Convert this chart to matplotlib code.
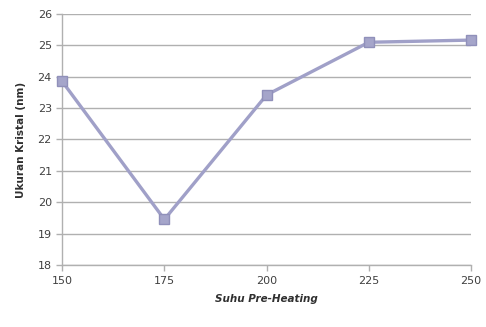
import matplotlib
matplotlib.use("Agg")
import matplotlib.pyplot as plt

suhu = [150, 175, 200, 225, 250]
ukuran = [23.85, 19.45, 23.42, 25.1, 25.17]
y_ticks = [18, 19, 20, 21, 22, 23, 24, 25, 26]

plt.rcParams["font.family"] = "DejaVu Sans"

fig = plt.figure(figsize=(4.86, 3.27), dpi=100)
ax = fig.add_axes([0.128, 0.19, 0.841, 0.767])

line_col = "#a0a0c8"
ax.plot(suhu, ukuran, color=line_col, lw=2.4, marker="s", ms=7,
        mfc="#a5a5ca", mec="#9090ba", zorder=3, clip_on=False)

ax.set_xlim(150, 250)
ax.set_ylim(18, 26)
ax.set_xticks(suhu)
ax.set_yticks(y_ticks)
ax.yaxis.grid(True, color="#b0b0b0", lw=1.0)
ax.set_axisbelow(True)

for s in ("top", "right"):
    ax.spines[s].set_visible(False)
for s in ("left", "bottom"):
    ax.spines[s].set_color("#b0b0b0")
    ax.spines[s].set_linewidth(1.0)

ax.tick_params(axis="both", colors="#b0b0b0", labelcolor="#404040",
               labelsize=8, length=4, width=1)
ax.tick_params(axis="x", pad=4)

ax.set_xlabel("Suhu Pre-Heating", fontsize=7.5, fontweight="bold",
              style="italic", color="#303030", labelpad=6)
ax.set_ylabel("Ukuran Kristal (nm)", fontsize=7.5, fontweight="bold",
              color="#303030", labelpad=8)

fig.savefig("out.png", dpi=100, facecolor="white")
